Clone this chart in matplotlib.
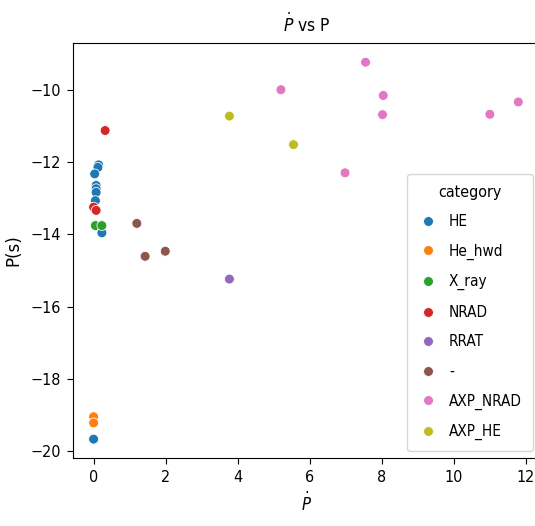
import matplotlib
matplotlib.use("Agg")
import matplotlib.pyplot as plt
import seaborn as sns
import pandas as pd

plt.rcParams['font.family'] = ['DejaVu Sans']
plt.rcParams['font.stretch'] = 'condensed'

categories = ["HE", "He_hwd", "X_ray", "NRAD", "RRAT", "-", "AXP_NRAD", "AXP_HE"]
colors = ["#1f77b4", "#ff7f0e", "#2ca02c", "#d62728", "#9467bd", "#8c564b", "#e377c2", "#bcbd22"]

he_x = [0.14, 0.12, 0.03, 0.07, 0.07, 0.07, 0.05, 0.23, 0.0]
he_y = [-12.08, -12.15, -12.33, -12.65, -12.74, -12.84, -13.07, -13.96, -19.67]
hehwd_x = [0.0, 0.0]
hehwd_y = [-19.05, -19.22]
xray_x = [0.05, 0.23]
xray_y = [-13.76, -13.76]
nrad_x = [0.32, 0.0, 0.07]
nrad_y = [-11.13, -13.25, -13.34]
rrat_x = [3.77]
rrat_y = [-15.24]
dash_x = [1.20, 1.43, 1.99]
dash_y = [-13.70, -14.61, -14.47]
axpnrad_x = [7.55, 5.20, 8.04, 8.02, 11.00, 11.79, 6.98]
axpnrad_y = [-9.24, -10.00, -10.16, -10.69, -10.68, -10.34, -12.30]
axphe_x = [3.77, 5.55]
axphe_y = [-10.73, -11.52]

groups = [(he_x, he_y), (hehwd_x, hehwd_y), (xray_x, xray_y), (nrad_x, nrad_y),
          (rrat_x, rrat_y), (dash_x, dash_y), (axpnrad_x, axpnrad_y), (axphe_x, axphe_y)]

rows = []
for cat, (xs, ys) in zip(categories, groups):
    for x, y in zip(xs, ys):
        rows.append({"Pdot": x, "P": y, "category": cat})
df = pd.DataFrame(rows)

fig = plt.figure(figsize=(5.35, 5.26), dpi=100)
ax = fig.add_axes([0.1359, 0.1287, 0.8733, 0.7901])
sns.scatterplot(data=df, x="Pdot", y="P", hue="category", hue_order=categories,
                palette=colors, s=50, ax=ax)
ax.set_xlim(-0.58, 12.39)
ax.set_ylim(-20.2, -8.7)
ax.set_xticks([0, 2, 4, 6, 8, 10, 12])
ax.set_yticks([-20, -18, -16, -14, -12, -10])
ax.tick_params(labelsize=11.5, length=4.5, pad=4)
ax.set_title(r"$\dot{P}$ vs P", fontsize=12.5, pad=8)
ax.set_xlabel(r"$\dot{P}$", fontsize=12, labelpad=5)
ax.set_ylabel("P(s)", fontsize=12, stretch='normal', labelpad=6)
leg = ax.legend(title="category", loc="lower right", fontsize=11, title_fontsize=11.5,
                labelspacing=0.95, handlelength=1.2, handletextpad=0.8,
                borderaxespad=0.45, borderpad=0.72)
fig.savefig("out.png", dpi=100)
